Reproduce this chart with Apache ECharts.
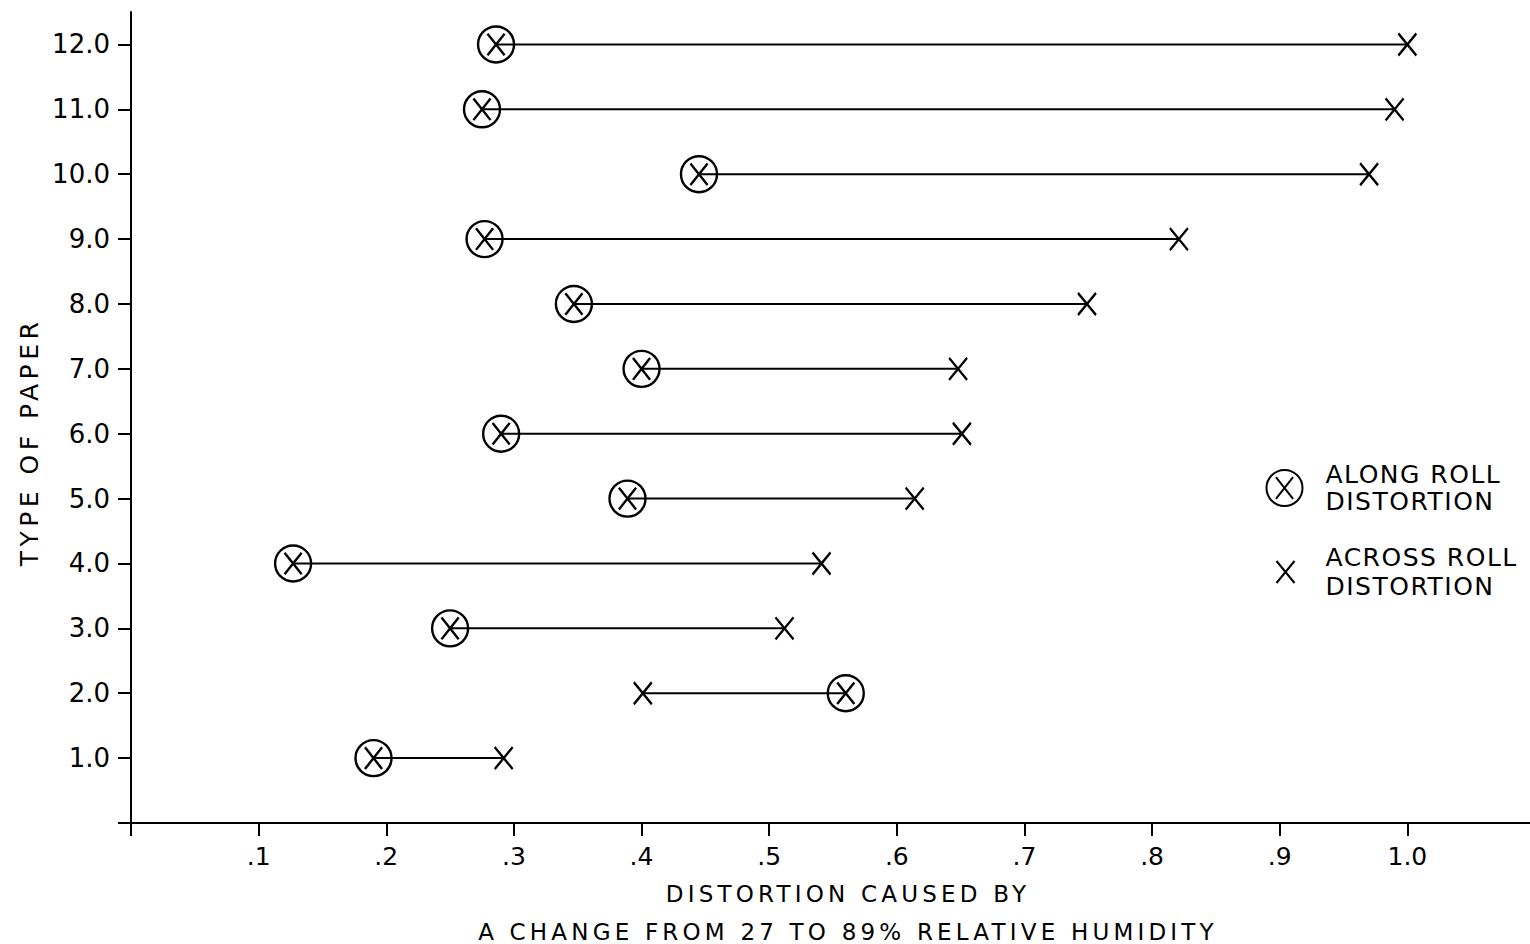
<!DOCTYPE html>
<html>
<head>
<meta charset="utf-8">
<script src="https://cdn.jsdelivr.net/npm/echarts@6/dist/echarts.min.js"></script>
<style>
html,body{margin:0;padding:0;background:#fff;}
#chart{width:1530px;height:944px;}
text[style*="spA"], text[font-family*="spA"] { letter-spacing: 1.5px; }
text[style*="spB"], text[font-family*="spB"] { letter-spacing: 4.2px; }
text[style*="spC"], text[font-family*="spC"] { letter-spacing: 4.5px; }
</style>
</head>
<body>
<div id="chart"></div>
<script>
const paperTypes = [1, 2, 3, 4, 5, 6, 7, 8, 9, 10, 11, 12];
const alongRoll = [0.190, 0.560, 0.250, 0.127, 0.389, 0.290, 0.400, 0.347, 0.277, 0.445, 0.275, 0.286];
const acrossRoll = [0.292, 0.401, 0.512, 0.541, 0.614, 0.651, 0.648, 0.749, 0.821, 0.970, 0.990, 1.000];
const xTickValues = [0, 0.1, 0.2, 0.3, 0.4, 0.5, 0.6, 0.7, 0.8, 0.9, 1.0, 1.1];
const xLabelValues = [0.1, 0.2, 0.3, 0.4, 0.5, 0.6, 0.7, 0.8, 0.9, 1.0];
const xLabelTexts = ['.1', '.2', '.3', '.4', '.5', '.6', '.7', '.8', '.9', '1.0'];
const yTickValues = [0, 1, 2, 3, 4, 5, 6, 7, 8, 9, 10, 11, 12];
const yLabelValues = [1, 2, 3, 4, 5, 6, 7, 8, 9, 10, 11, 12];
const yLabelTexts = ['1.0', '2.0', '3.0', '4.0', '5.0', '6.0', '7.0', '8.0', '9.0', '10.0', '11.0', '12.0'];

const FONT = 'DejaVu Sans';
const alongName = 'ALONG ROLL\nDISTORTION';
const acrossName = 'ACROSS ROLL\nDISTORTION';
const circleX = 'path://M0,-20 A20,20 0 1,1 0,20 A20,20 0 1,1 0,-20 Z M-9.5,-12 L9.5,12 M9.5,-12 L-9.5,12';
const plainX = 'path://M-9,-11 L9,11 M9,-11 L-9,11';

const chart = echarts.init(document.getElementById('chart'), null, { renderer: 'svg' });
chart.setOption({
  backgroundColor: '#ffffff',
  animation: false,
  textStyle: { fontFamily: FONT, color: '#000' },
  grid: { left: 131, top: 12, width: 1404, height: 811, outerBoundsMode: 'none', containLabel: false },
  xAxis: {
    type: 'value', min: 0, max: 1.1, interval: 0.1,
    axisLine: { lineStyle: { color: '#000', width: 2 } },
    axisTick: { show: true, length: 13, lineStyle: { color: '#000', width: 2 }, customValues: xTickValues },
    axisLabel: {
      customValues: xLabelValues,
      margin: 21, fontSize: 25, color: '#000', fontFamily: FONT,
      formatter: v => { const i = xLabelValues.findIndex(x => Math.abs(x - v) < 1e-6); return i >= 0 ? xLabelTexts[i] : ''; }
    },
    splitLine: { show: false },
    name: 'DISTORTION CAUSED BY\nA CHANGE FROM 27 TO 89% RELATIVE HUMIDITY',
    nameLocation: 'middle', nameGap: 52,
    nameTextStyle: { fontSize: 23, lineHeight: 38, color: '#000', fontFamily: FONT + ', spB', padding: [0, 0, 0, 30] }
  },
  yAxis: {
    type: 'value', min: 0, max: 12.5, interval: 1,
    axisLine: { lineStyle: { color: '#000', width: 2 } },
    axisTick: { show: true, length: 13, lineStyle: { color: '#000', width: 2 }, customValues: yTickValues },
    axisLabel: {
      customValues: yLabelValues,
      margin: 21, fontSize: 26, color: '#000', fontFamily: FONT,
      formatter: v => { const i = yLabelValues.indexOf(Math.round(v)); return i >= 0 ? yLabelTexts[i] : ''; }
    },
    splitLine: { show: false }
  },
  graphic: [{
    type: 'text', x: 29, y: 442, rotation: Math.PI / 2,
    style: { text: 'TYPE OF PAPER', fontSize: 25, fontFamily: FONT + ', spC', fill: '#000', align: 'center', verticalAlign: 'middle' }
  }],
  legend: [
    {
      data: [{ name: alongName, icon: circleX }],
      orient: 'vertical', left: 1264, top: 461, itemWidth: 36, itemHeight: 36, padding: 0,
      selectedMode: false,
      textStyle: { fontSize: 25, lineHeight: 27, color: '#000', fontFamily: FONT + ', spA', padding: [0, 0, 0, 18] }
    },
    {
      data: [{ name: acrossName, icon: plainX }],
      orient: 'vertical', left: 1274, top: 543, itemWidth: 18, itemHeight: 22, padding: 0,
      selectedMode: false,
      textStyle: { fontSize: 25, lineHeight: 29, color: '#000', fontFamily: FONT + ', spA', padding: [0, 0, 0, 26] }
    }
  ],
  series: [
    {
      type: 'custom', name: 'range', silent: true,
      data: paperTypes.map((t, i) => [t, alongRoll[i], acrossRoll[i]]),
      encode: { x: [1, 2], y: 0 },
      renderItem: (params, api) => {
        const y = api.value(0);
        const p1 = api.coord([api.value(1), y]);
        const p2 = api.coord([api.value(2), y]);
        return { type: 'line', shape: { x1: p1[0], y1: p1[1], x2: p2[0], y2: p2[1] }, style: { stroke: '#000', lineWidth: 2 } };
      },
      z: 1
    },
    {
      type: 'scatter', name: alongName,
      data: paperTypes.map((t, i) => [alongRoll[i], t]),
      symbol: circleX, symbolSize: 36,
      itemStyle: { color: 'none', borderColor: '#000', borderWidth: 2.4, opacity: 1 },
      z: 3
    },
    {
      type: 'scatter', name: acrossName,
      data: paperTypes.map((t, i) => [acrossRoll[i], t]),
      symbol: plainX, symbolSize: [18, 22],
      itemStyle: { color: 'none', borderColor: '#000', borderWidth: 2.4, opacity: 1 },
      z: 3
    }
  ]
});
</script>
</body>
</html>
